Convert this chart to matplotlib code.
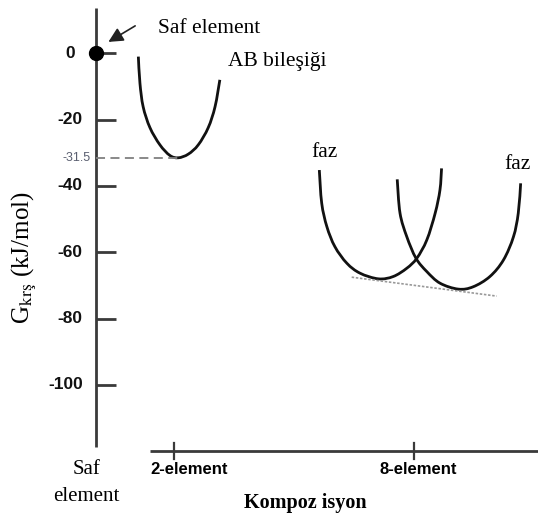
import numpy as np
import matplotlib
matplotlib.use("Agg")
import matplotlib.pyplot as plt
from matplotlib.path import Path
from matplotlib.patches import PathPatch

# --- data (x: composition units, y: G in kJ/mol) ---
Y_TICKS = [0, -20, -40, -60, -80, -100]
Y_TICK_LABELS = ["0", "-20", "-40", "-60", "-80", "-100"]
AB_MIN = -31.5
X_TICKS = [2, 8]
X_TICK_LABELS = ["2-element", "8-element"]

ab_x = [1.10, 1.14, 1.22, 1.39, 1.64, 1.89, 2.10, 2.35, 2.60, 2.85, 3.02, 3.14]
ab_y = [-1.0, -9.0, -16.1, -22.4, -27.6, -30.8, -31.5, -30.4, -27.6, -22.4, -16.1, -8.0]

faz1_x = [5.63, 5.69, 5.82, 6.02, 6.32, 6.65, 7.11, 7.48, 7.82, 8.07, 8.32, 8.53, 8.65, 8.69]
faz1_y = [-35.2, -45.2, -52.3, -58.3, -63.3, -66.3, -68.0, -67.3, -64.8, -61.8, -56.3, -48.2, -41.2, -34.7]

faz2_x = [7.58, 7.65, 7.82, 8.05, 8.32, 8.65, 9.11, 9.48, 9.90, 10.24, 10.49, 10.61, 10.67]
faz2_y = [-38.0, -48.2, -55.3, -61.8, -65.8, -69.3, -71.1, -70.4, -67.3, -62.3, -55.3, -48.2, -39.2]

tangent_x = [6.44, 10.07]
tangent_y = [-67.5, -73.2]

AX_COL = "#3a3a3a"


def smooth_path(xs, ys):
    """Catmull-Rom through the read points, drawn as cubic Bezier segments."""
    p = np.column_stack([xs, ys])
    verts, codes = [p[0]], [Path.MOVETO]
    n = len(p)
    for i in range(n - 1):
        p0 = p[max(i - 1, 0)]
        p1, p2 = p[i], p[i + 1]
        p3 = p[min(i + 2, n - 1)]
        verts += [p1 + (p2 - p0) / 6, p2 - (p3 - p1) / 6, p2]
        codes += [Path.CURVE4] * 3
    return Path(verts, codes)


fig = plt.figure(figsize=(5.38, 5.14), dpi=100)
ax = fig.add_axes([0, 0, 1, 1])
ax.set_xlim(-2.363, 11.104)
ax.set_ylim(-138.9, 16.07)
ax.axis("off")

# vertical axis with ticks
ax.plot([0.05, 0.05], [13.6, -118.7], color=AX_COL, lw=2, solid_capstyle="butt")
for v, lab in zip(Y_TICKS, Y_TICK_LABELS):
    ax.plot([0.05, 0.55], [v, v], color=AX_COL, lw=2, solid_capstyle="butt")
    ax.text(-0.29 if v else -0.49, v, lab, ha="right", va="center", fontsize=12.5,
            fontweight="bold", family="Liberation Sans", color="#111111")

# -31.5 marker
ax.plot([0.05, ab_x[ab_y.index(AB_MIN)]], [AB_MIN, AB_MIN], color="#808080",
        lw=1.3, dashes=(5, 3))
ax.text(-0.1, AB_MIN, "-31.5", ha="right", va="center", fontsize=9,
        family="Liberation Sans", color="#5a5f70")

# pure element point + arrow
ax.plot([0.05], [0], "o", color="black", markersize=10)
ax.annotate("", xy=(0.29, 3.0), xytext=(1.08, 8.7),
            arrowprops=dict(arrowstyle="-|>", color="#222222", lw=1.2,
                            mutation_scale=22))
ax.text(1.59, 6.1, "Saf element", ha="left", va="baseline", fontsize=15.5,
        family="Liberation Serif")
ax.text(3.35, -3.8, "AB bileşiği", ha="left", va="baseline", fontsize=15.5,
        family="Liberation Serif")

# curves
for xs, ys in [(ab_x, ab_y), (faz1_x, faz1_y), (faz2_x, faz2_y)]:
    ax.add_patch(PathPatch(smooth_path(xs, ys), fill=False, edgecolor="#111111",
                           lw=2, capstyle="butt"))
ax.plot(tangent_x, tangent_y, color="#999999", lw=1.2, dashes=(1.5, 1))
ax.text(5.43, -31.2, "faz", ha="left", va="baseline", fontsize=15.5,
        family="Liberation Serif")
ax.text(10.25, -35.0, "faz", ha="left", va="baseline", fontsize=15.5,
        family="Liberation Serif")

# horizontal axis
ax.plot([1.39, 11.2], [-119.9, -119.9], color=AX_COL, lw=2, solid_capstyle="butt")
for v in X_TICKS:
    ax.plot([v, v], [-117.4, -122.3], color=AX_COL, lw=1.6)
ax.text(2.38, -125.5, X_TICK_LABELS[0], ha="center", va="center", fontsize=12,
        fontweight="bold", family="Liberation Sans")
ax.text(8.1, -125.5, X_TICK_LABELS[1], ha="center", va="center", fontsize=12,
        fontweight="bold", family="Liberation Sans")
ax.text(-0.2, -125.5, "Saf", ha="center", va="center", fontsize=15,
        family="Liberation Serif")
ax.text(-0.2, -133.6, "element", ha="center", va="center", fontsize=15,
        family="Liberation Serif")
ax.text(5.27, -135.6, "Kompoz isyon", ha="center", va="center", fontsize=14.5,
        fontweight="bold", family="Liberation Serif")

# y label
plt.rcParams["mathtext.fontset"] = "stix"
ax.text(-1.74, -61.7, r"G$_{\mathrm{krş}}$ (kJ/mol)", rotation=90, ha="center",
        va="center", fontsize=18, family="Liberation Serif")

fig.savefig("out.png", dpi=100)
